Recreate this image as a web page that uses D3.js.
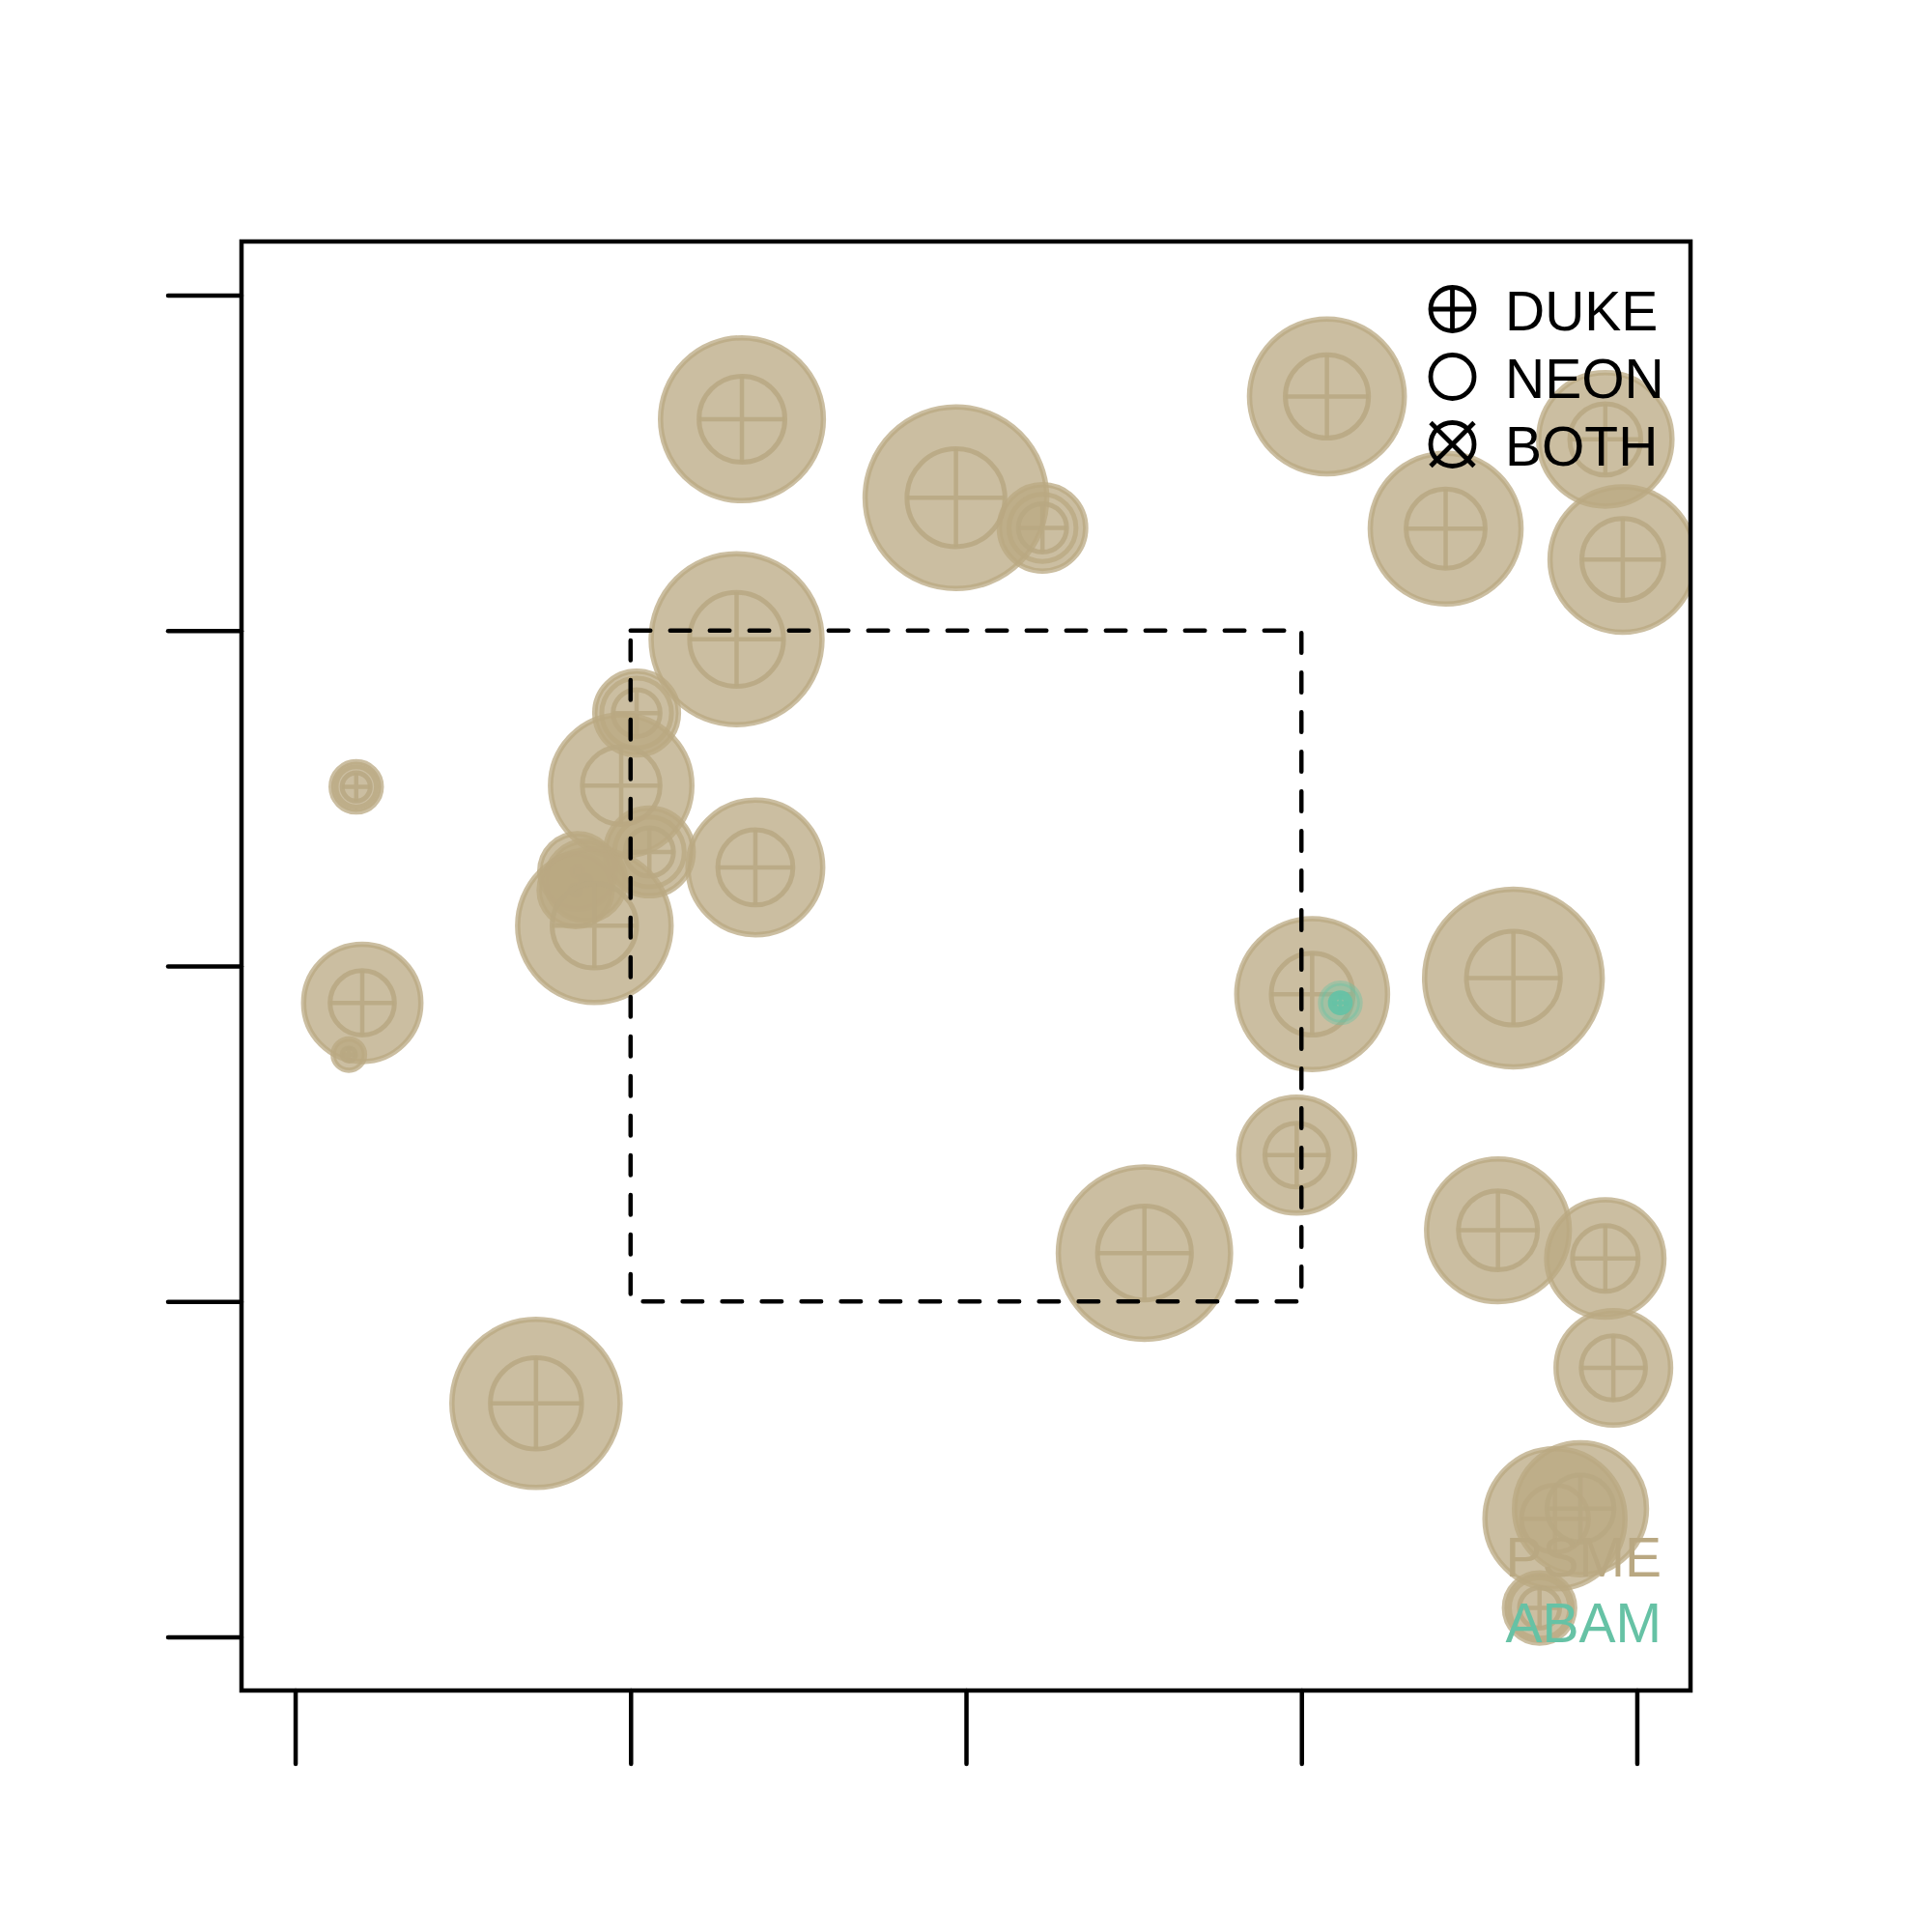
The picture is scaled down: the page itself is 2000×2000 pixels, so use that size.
<!DOCTYPE html>
<html>
<head>
<meta charset="utf-8">
<script src="https://cdn.jsdelivr.net/npm/d3@7"></script>
<style>
  html, body { margin: 0; padding: 0; background: #fff; }
  svg { display: block; }
</style>
</head>
<body>
<script>
// ---- data (plot coordinates, metres in a 20 x 20 plot) ----
const treeX     = [6.66, 9.85, 11.14, 15.38, 17.15, 19.53, 19.79, 6.58, 5.09, 4.86, 0.91, 5.28, 6.86, 4.21, 4.33, 4.18, 4.46, 1.00, 0.80, 15.16, 18.16, 14.93, 12.66, 17.93, 19.53, 19.65, 3.59, 18.78, 19.16, 18.55, 15.58];
const treeY     = [18.15, 16.98, 16.53, 18.49, 16.52, 17.85, 16.06, 14.87, 13.77, 12.69, 12.67, 11.70, 11.47, 11.41, 11.27, 11.13, 10.60, 9.45, 8.68, 9.58, 9.82, 7.18, 5.72, 6.06, 5.64, 4.01, 3.48, 1.76, 1.91, 0.43, 9.45];
const crownR    = [1.25, 1.39, 0.68, 1.19, 1.16, 1.03, 1.12, 1.31, 0.66, 1.09, 0.41, 0.69, 1.04, 0.60, 0.63, 0.58, 1.18, 0.91, 0.27, 1.16, 1.36, 0.90, 1.32, 1.10, 0.91, 0.89, 1.29, 1.08, 1.02, 0.56, 0.33];
const stemR     = [0.64, 0.73, 0.36, 0.62, 0.59, 0.53, 0.61, 0.70, 0.35, 0.58, 0.21, 0.36, 0.56, 0.08, 0.08, 0.08, 0.63, 0.48, 0.10, 0.61, 0.70, 0.475, 0.70, 0.59, 0.49, 0.48, 0.68, 0.50, 0.50, 0.30, 0.12];
const innerR    = [0, 0, 0.50, 0, 0, 0, 0, 0, 0.52, 0, 0.30, 0.52, 0, 0, 0, 0, 0, 0, 0, 0, 0, 0, 0, 0, 0, 0, 0, 0, 0, 0.45, 0];
const species   = ["PSME","PSME","PSME","PSME","PSME","PSME","PSME","PSME","PSME","PSME","PSME","PSME","PSME","PSME","PSME","PSME","PSME","PSME","PSME","PSME","PSME","PSME","PSME","PSME","PSME","PSME","PSME","PSME","PSME","PSME","ABAM"];

const speciesNames  = ["PSME", "ABAM"];
const speciesColors = ["#b9a882", "#66c2a5"];
const sourceNames   = ["DUKE", "NEON", "BOTH"];
const tickValues    = [0, 5, 10, 15, 20];
const subplot       = [5, 15]; // dashed inner subplot extent

// ---- layout ----
const W = 2000, H = 2000;
const box = {x0: 250, y0: 250, x1: 1750, y1: 1750};
const pad = (box.x1 - box.x0) * (0.04 / 1.08);
const x = d3.scaleLinear().domain([0, 20]).range([box.x0 + pad, box.x1 - pad]);
const y = d3.scaleLinear().domain([0, 20]).range([box.y1 - pad, box.y0 + pad]);
const k = x(1) - x(0);
const col = d3.scaleOrdinal().domain(speciesNames).range(speciesColors);
const LW = 4.5;
const FONT = "'Liberation Sans', Arial, Helvetica, sans-serif";

const svg = d3.select("body").append("svg").attr("width", W).attr("height", H);
svg.append("rect").attr("width", W).attr("height", H).attr("fill", "#fff");

svg.append("clipPath").attr("id", "clip").append("rect")
  .attr("x", box.x0).attr("y", box.y0)
  .attr("width", box.x1 - box.x0).attr("height", box.y1 - box.y0);

const trees = treeX.map((d, i) => ({x: d, y: treeY[i], r: crownR[i], s: stemR[i], ir: innerR[i], sp: species[i]}));

const plot = svg.append("g").attr("clip-path", "url(#clip)");

// species labels drawn under crowns
const labG = svg.append("g").attr("font-family", FONT).attr("font-size", 57).attr("text-anchor", "end");
labG.selectAll("text").data(speciesNames).join("text")
  .attr("x", 1720).attr("y", (d, i) => 1632 + i * 68)
  .attr("fill", d => col(d)).text(d => d);

trees.forEach(t => {
  const g = plot.append("g");
  const c = col(t.sp);
  const isAbam = t.sp === "ABAM";
  const a = isAbam ? 0.4 : 0.75;
  const cx = x(t.x), cy = y(t.y);
  g.append("circle").attr("cx", cx).attr("cy", cy).attr("r", Math.max(t.r * k - 2.5, 1))
    .attr("fill", c).attr("fill-opacity", a)
    .attr("stroke", c).attr("stroke-opacity", a).attr("stroke-width", 5.5);
  if (t.ir > 0) {
    g.append("circle").attr("cx", cx).attr("cy", cy).attr("r", t.ir * k)
      .attr("fill", "none").attr("stroke", c).attr("stroke-opacity", a).attr("stroke-width", 5);
  }
  const sr = t.s * k;
  const sa = isAbam ? 0.95 : 0.85;
  const sw = isAbam ? 9 : 5;
  g.append("circle").attr("cx", cx).attr("cy", cy).attr("r", sr)
    .attr("fill", "none").attr("stroke", c).attr("stroke-opacity", sa).attr("stroke-width", sw);
  g.append("path")
    .attr("d", `M${cx - sr},${cy}H${cx + sr}M${cx},${cy - sr}V${cy + sr}`)
    .attr("fill", "none").attr("stroke", c).attr("stroke-opacity", sa).attr("stroke-width", isAbam ? 4 : sw * 0.9);
});

// dashed inner subplot
svg.append("rect")
  .attr("x", x(subplot[0])).attr("y", y(subplot[1]))
  .attr("width", x(subplot[1]) - x(subplot[0])).attr("height", y(subplot[0]) - y(subplot[1]))
  .attr("fill", "none").attr("stroke", "#000").attr("stroke-width", LW)
  .attr("stroke-dasharray", "20.5,20.5").attr("stroke-linecap", "round");

// legend of sources
const leg = svg.append("g");
const lr = 22.5, lx = 1503.5;
sourceNames.forEach((name, i) => {
  const cy = 320 + i * 70;
  const g = leg.append("g").attr("fill", "none").attr("stroke", "#000").attr("stroke-width", LW + 0.3);
  g.append("circle").attr("cx", lx).attr("cy", cy).attr("r", lr);
  if (name === "DUKE") {
    g.append("path").attr("d", `M${lx - lr},${cy}H${lx + lr}M${lx},${cy - lr}V${cy + lr}`);
  } else if (name === "BOTH") {
    g.append("path").attr("d", `M${lx - lr},${cy - lr}L${lx + lr},${cy + lr}M${lx - lr},${cy + lr}L${lx + lr},${cy - lr}`);
  }
  leg.append("text").attr("x", 1558).attr("y", cy + 22)
    .attr("font-family", FONT).attr("font-size", 57).attr("fill", "#000").text(name);
});

// frame
svg.append("rect").attr("x", box.x0).attr("y", box.y0)
  .attr("width", box.x1 - box.x0).attr("height", box.y1 - box.y0)
  .attr("fill", "none").attr("stroke", "#000").attr("stroke-width", LW);

// axes (ticks only, no labels)
const xAxis = d3.axisBottom(x).tickValues(tickValues).tickFormat("").tickSizeInner(76).tickSizeOuter(0);
const yAxis = d3.axisLeft(y).tickValues(tickValues).tickFormat("").tickSizeInner(76).tickSizeOuter(0);
const gx = svg.append("g").attr("transform", `translate(0,${box.y1})`).call(xAxis);
const gy = svg.append("g").attr("transform", `translate(${box.x0},0)`).call(yAxis);
[gx, gy].forEach(g => {
  g.select(".domain").remove();
  g.selectAll(".tick line").attr("stroke", "#000").attr("stroke-width", LW).attr("stroke-linecap", "round");
});
</script>
</body>
</html>
